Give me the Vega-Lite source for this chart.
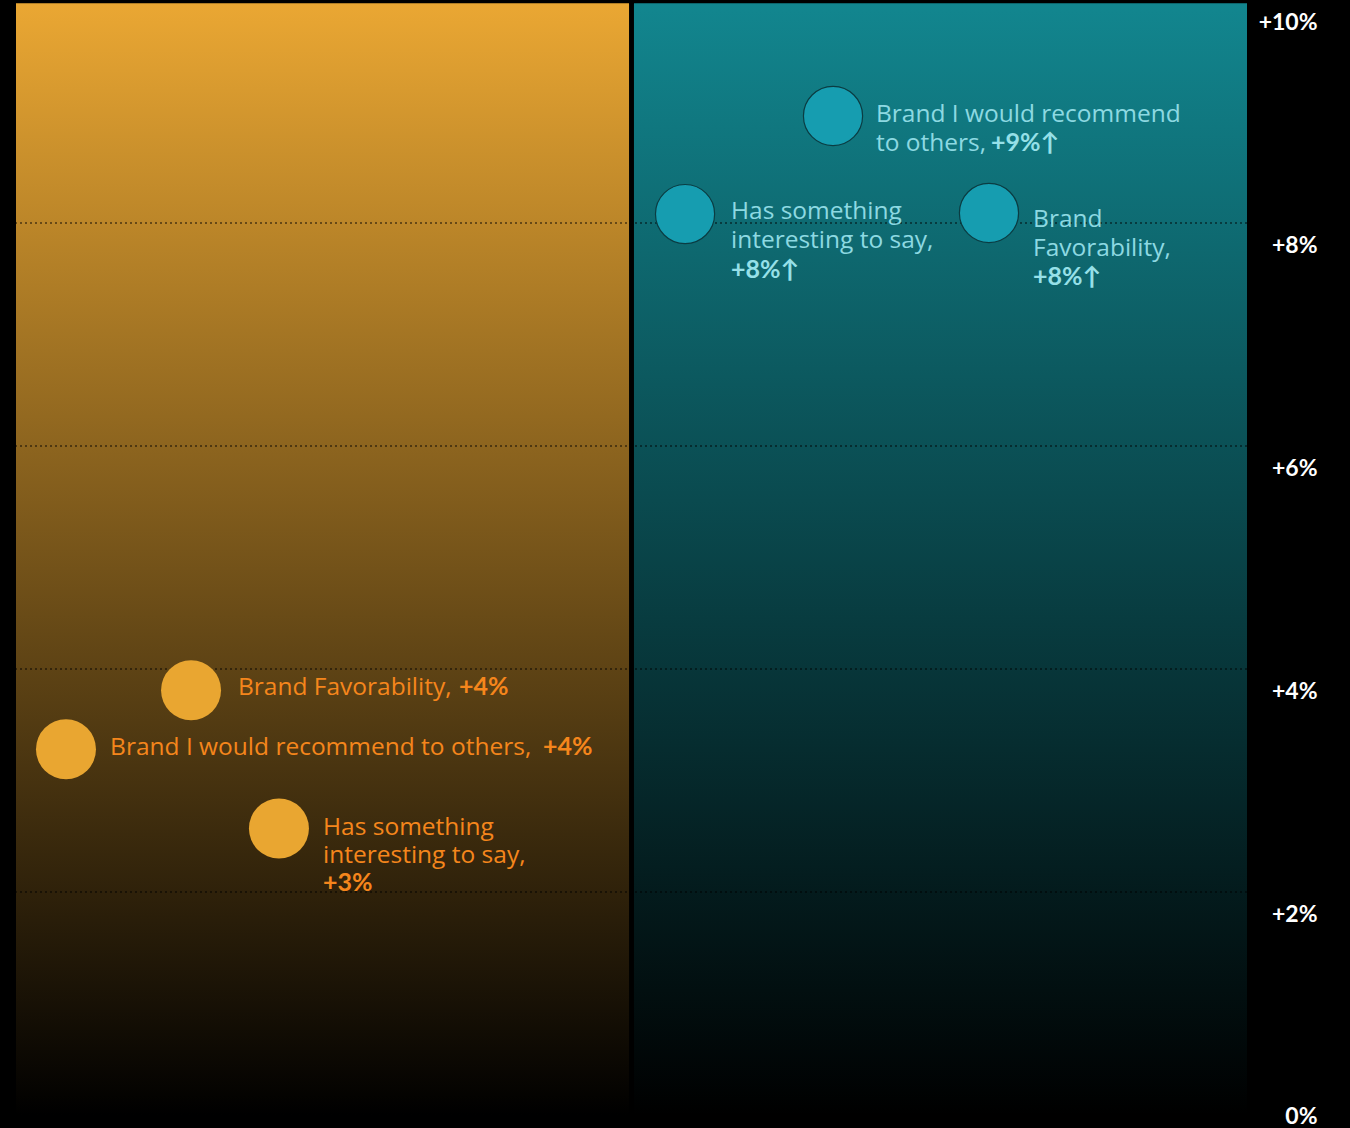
{
  "$schema": "https://vega.github.io/schema/vega-lite/v6.json",
  "autosize": "none",
  "width": 1231,
  "height": 1115,
  "padding": {"left": 16, "top": 0, "right": 103, "bottom": 13},
  "background": "#000000",
  "config": {"view": {"stroke": null}},
  "datasets": {
    "panels": [
      {"panel": "A", "x0": 0, "x1": 49.8, "y0": 0, "y1": 9.97},
      {"panel": "B", "x0": 50.2, "x1": 100, "y0": 0, "y1": 9.97}
    ],
    "grid": [{"v": 2}, {"v": 4}, {"v": 6}, {"v": 8}],
    "points": [
      {"panel": "A", "metric": "Brand Favorability", "pos": 14.22, "lift": 3.81},
      {"panel": "A", "metric": "Brand I would recommend to others", "pos": 4.06, "lift": 3.28},
      {"panel": "A", "metric": "Has something interesting to say", "pos": 21.36, "lift": 2.57},
      {"panel": "B", "metric": "Brand I would recommend to others", "pos": 66.37, "lift": 8.96},
      {"panel": "B", "metric": "Has something interesting to say", "pos": 54.35, "lift": 8.08},
      {"panel": "B", "metric": "Brand Favorability", "pos": 79.04, "lift": 8.09}
    ],
    "labels": [
      {"panel": "A", "part": "name", "pos": 18.03, "lift": 3.767, "text": "Brand Favorability,"},
      {"panel": "A", "part": "value", "pos": 35.99, "lift": 3.767, "text": "+4%"},
      {"panel": "A", "part": "name", "pos": 7.64, "lift": 3.229, "text": "Brand I would recommend to others,"},
      {"panel": "A", "part": "value", "pos": 42.81, "lift": 3.229, "text": "+4%"},
      {"panel": "A", "part": "name", "pos": 24.94, "lift": 2.511, "text": "Has something"},
      {"panel": "A", "part": "name", "pos": 24.94, "lift": 2.26, "text": "interesting to say,"},
      {"panel": "A", "part": "value", "pos": 24.94, "lift": 2.009, "text": "+3%"},
      {"panel": "B", "part": "name", "pos": 69.86, "lift": 8.906, "text": "Brand I would recommend"},
      {"panel": "B", "part": "name", "pos": 69.86, "lift": 8.646, "text": "to others,"},
      {"panel": "B", "part": "value", "pos": 79.2, "lift": 8.646, "text": "+9%↑"},
      {"panel": "B", "part": "name", "pos": 58.08, "lift": 8.036, "text": "Has something"},
      {"panel": "B", "part": "name", "pos": 58.08, "lift": 7.776, "text": "interesting to say,"},
      {"panel": "B", "part": "value", "pos": 58.08, "lift": 7.507, "text": "+8%↑"},
      {"panel": "B", "part": "name", "pos": 82.62, "lift": 7.964, "text": "Brand"},
      {"panel": "B", "part": "name", "pos": 82.62, "lift": 7.704, "text": "Favorability,"},
      {"panel": "B", "part": "value", "pos": 82.62, "lift": 7.444, "text": "+8%↑"}
    ]
  },
  "layer": [
    {
      "data": {"name": "panels"},
      "transform": [{"filter": "datum.panel == 'A'"}],
      "mark": {"type": "rect", "fill": {"gradient": "linear", "x1": 0, "y1": 0, "x2": 0, "y2": 1, "stops": [{"offset": 0, "color": "#EAA733"}, {"offset": 1, "color": "#000000"}]}},
      "encoding": {
        "x": {"field": "x0", "type": "quantitative", "scale": {"domain": [0, 100], "nice": false, "zero": false}, "axis": null},
        "x2": {"field": "x1"},
        "y": {"field": "y0", "type": "quantitative", "scale": {"domain": [0, 10], "nice": false, "zero": false},
          "axis": {
            "orient": "right", "title": null, "grid": false, "domain": false, "ticks": false, "tickSize": 0,
            "values": [0, 2, 4, 6, 8, 10],
            "labelExpr": "datum.value == 0 ? '0%' : '+' + datum.value + '%'",
            "labelAlign": "right", "labelBaseline": "alphabetic", "labelPadding": 70,
            "labelOffset": {"condition": {"test": "datum.value == 0", "value": 8}, "value": 29.5},
            "labelFont": "Lato", "labelFontWeight": "bold", "labelFontSize": 23, "labelColor": "#FFFFFF",
            "labelBound": false, "labelFlush": false, "labelOverlap": false
          }},
        "y2": {"field": "y1"}
      }
    },
    {
      "data": {"name": "panels"},
      "transform": [{"filter": "datum.panel == 'B'"}],
      "mark": {"type": "rect", "fill": {"gradient": "linear", "x1": 0, "y1": 0, "x2": 0, "y2": 1, "stops": [{"offset": 0, "color": "#12868F"}, {"offset": 1, "color": "#000000"}]}},
      "encoding": {
        "x": {"field": "x0", "type": "quantitative", "scale": {"domain": [0, 100], "nice": false, "zero": false}},
        "x2": {"field": "x1"},
        "y": {"field": "y0", "type": "quantitative", "scale": {"domain": [0, 10], "nice": false, "zero": false}},
        "y2": {"field": "y1"}
      }
    },
    {
      "data": {"name": "grid"},
      "mark": {"type": "rule", "color": "#000000", "opacity": 0.6, "strokeWidth": 1.5, "strokeDash": [2, 3]},
      "encoding": {
        "y": {"field": "v", "type": "quantitative", "scale": {"domain": [0, 10], "nice": false, "zero": false}}
      }
    },
    {
      "data": {"name": "points"},
      "transform": [{"filter": "datum.panel == 'A'"}],
      "mark": {"type": "circle", "size": 3600, "opacity": 1, "color": "#E9A631"},
      "encoding": {
        "x": {"field": "pos", "type": "quantitative", "scale": {"domain": [0, 100], "nice": false, "zero": false}},
        "y": {"field": "lift", "type": "quantitative", "scale": {"domain": [0, 10], "nice": false, "zero": false}}
      }
    },
    {
      "data": {"name": "points"},
      "transform": [{"filter": "datum.panel == 'B'"}],
      "mark": {"type": "circle", "size": 3500, "opacity": 1, "fill": "#169DB0", "stroke": "#0B3C42", "strokeWidth": 1.2, "strokeOpacity": 1},
      "encoding": {
        "x": {"field": "pos", "type": "quantitative", "scale": {"domain": [0, 100], "nice": false, "zero": false}},
        "y": {"field": "lift", "type": "quantitative", "scale": {"domain": [0, 10], "nice": false, "zero": false}}
      }
    },
    {
      "data": {"name": "labels"},
      "transform": [{"filter": "datum.panel == 'A' && datum.part == 'name'"}],
      "mark": {"type": "text", "align": "left", "baseline": "alphabetic", "font": "Open Sans", "fontSize": 24.5, "color": "#F5861C"},
      "encoding": {
        "x": {"field": "pos", "type": "quantitative", "scale": {"domain": [0, 100], "nice": false, "zero": false}},
        "y": {"field": "lift", "type": "quantitative", "scale": {"domain": [0, 10], "nice": false, "zero": false}},
        "text": {"field": "text"}
      }
    },
    {
      "data": {"name": "labels"},
      "transform": [{"filter": "datum.panel == 'A' && datum.part == 'value'"}],
      "mark": {"type": "text", "align": "left", "baseline": "alphabetic", "font": "Lato", "fontSize": 25, "fontWeight": "bold", "color": "#F5861C"},
      "encoding": {
        "x": {"field": "pos", "type": "quantitative", "scale": {"domain": [0, 100], "nice": false, "zero": false}},
        "y": {"field": "lift", "type": "quantitative", "scale": {"domain": [0, 10], "nice": false, "zero": false}},
        "text": {"field": "text"}
      }
    },
    {
      "data": {"name": "labels"},
      "transform": [{"filter": "datum.panel == 'B' && datum.part == 'name'"}],
      "mark": {"type": "text", "align": "left", "baseline": "alphabetic", "font": "Open Sans", "fontSize": 24.5, "color": "#8DD9E2"},
      "encoding": {
        "x": {"field": "pos", "type": "quantitative", "scale": {"domain": [0, 100], "nice": false, "zero": false}},
        "y": {"field": "lift", "type": "quantitative", "scale": {"domain": [0, 10], "nice": false, "zero": false}},
        "text": {"field": "text"}
      }
    },
    {
      "data": {"name": "labels"},
      "transform": [{"filter": "datum.panel == 'B' && datum.part == 'value'"}],
      "mark": {"type": "text", "align": "left", "baseline": "alphabetic", "font": "Lato", "fontSize": 25, "fontWeight": "bold", "color": "#96E0E8"},
      "encoding": {
        "x": {"field": "pos", "type": "quantitative", "scale": {"domain": [0, 100], "nice": false, "zero": false}},
        "y": {"field": "lift", "type": "quantitative", "scale": {"domain": [0, 10], "nice": false, "zero": false}},
        "text": {"field": "text"}
      }
    }
  ]
}
